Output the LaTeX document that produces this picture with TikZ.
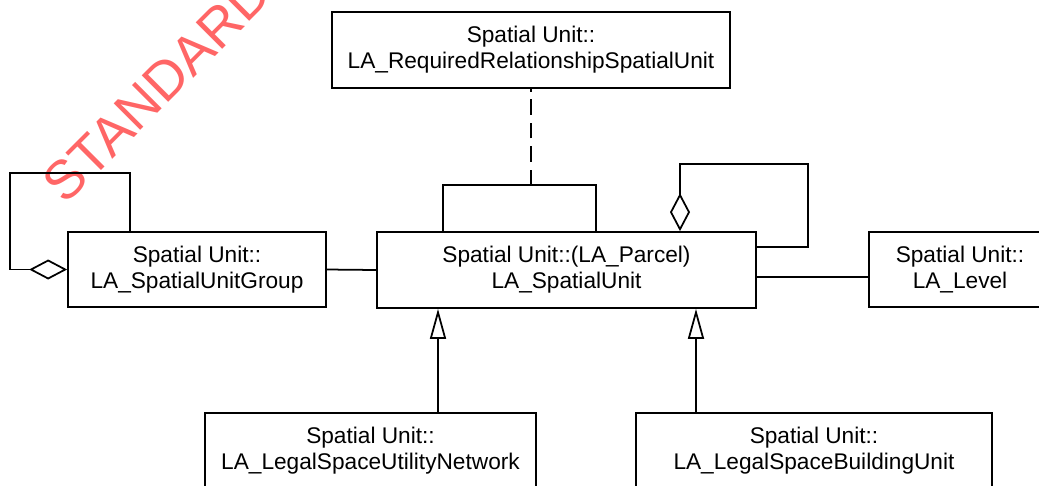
\documentclass[tikz,border=0pt]{standalone}
\usepackage{fontspec}
\setmainfont{Liberation Sans}
\usetikzlibrary{arrows.meta}

\begin{document}
\begin{tikzpicture}[x=0.02cm, y=-0.02cm, line width=1pt,
    cls/.style={draw=black, fill=white, align=center, inner sep=0pt, minimum height=1.5cm, font=\fontsize{12.9}{14.8}\selectfont},
    gen/.style={-{Triangle[open, length=0.6cm, width=0.32cm]}},
    agg/.style={{Diamond[open, length=0.76cm, width=0.4cm]}-}]
\clip (0,0) rectangle (1039,485);

% Watermark
\node[rotate=45, text=red!60, font=\fontsize{31}{31}\selectfont] (WM) at (157,88) {STANDARD};

% Classes
\node[cls, minimum width=7.96cm, minimum height=1.52cm] (RR) at (531,50) {Spatial Unit::\\LA\_RequiredRelationshipSpatialUnit};
\node[cls, minimum width=5.16cm] (SUG) at (197,269.5) {Spatial Unit::\\LA\_SpatialUnitGroup};
\node[cls, minimum width=7.58cm, minimum height=1.52cm] (SU) at (566.5,270) {Spatial Unit::(LA\_Parcel)\\LA\_SpatialUnit};
\node[cls, minimum width=3.64cm] (LV) at (960,269.5) {Spatial Unit::\\LA\_Level};
\node[cls, minimum width=6.62cm] (UN) at (370.5,450.5) {Spatial Unit::\\LA\_LegalSpaceUtilityNetwork};
\node[cls, minimum width=7.12cm] (BU) at (814,450.5) {Spatial Unit::\\LA\_LegalSpaceBuildingUnit};

% Associations
\draw (SUG.east) -- (SU.west);
\draw (SU.east |- 0,277) -- (LV.west |- 0,277);

% Association class
\coordinate (AC) at (531,185);
\draw (SU.north -| 443,0) |- (AC) -| (SU.north -| 596,0);
\draw[dash pattern=on 8.8pt off 4.5pt] (AC) -- (RR.south);

% Aggregations
\draw[agg] (SU.north -| 680,0) |- (808,164) |- (SU.east |- 0,247);
\draw[agg] (SUG.west) -| (10,173) -| (SUG.north -| 130,0);

% Generalizations
\draw[gen] (UN.north -| 438,0) -- (SU.south -| 438,0);
\draw[gen] (BU.north -| 696,0) -- (SU.south -| 696,0);

\end{tikzpicture}
\end{document}
